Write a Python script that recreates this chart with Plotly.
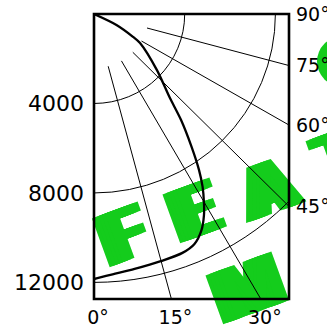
import numpy as np
import plotly.graph_objects as go

# box extent in data units (horizontal distance / depth)
XMAX = 8600
YMAX = 12742

# grid: rings and spokes around the top-left corner
ring_radii = [4000, 8000, 12000]
spoke_angles = [15, 30, 45, 60, 75]
spoke_start = 2420

# angle labels on the bottom and right edges
bottom_angles = [0, 15, 30]
right_angles = [45, 60, 75, 90]
depth_ticks = [4000, 8000, 12000]

# the thick path
curve_x = [0, 990, 1720, 2030, 2770, 3350, 3840, 4300, 4630, 4790, 4850,
           4850, 4740, 4430, 3900, 2980, 1790, 820, 150, 0]
curve_y = [0, 490, 1020, 1300, 2500, 3760, 4740, 5930, 6970, 7730, 8450,
           8990, 9660, 10280, 10680, 11040, 11400, 11640, 11810, 11850]

GREEN = "#14cc1c"

fig = go.Figure()

# spokes (clipped by the plot area)
sx, sy = [], []
for a in spoke_angles:
    t = np.radians(a)
    sx += [spoke_start * np.sin(t), 30000 * np.sin(t), None]
    sy += [spoke_start * np.cos(t), 30000 * np.cos(t), None]
fig.add_trace(go.Scatter(
    x=sx, y=sy, mode="lines", yaxis="y2",
    line=dict(color="black", width=1),
    hoverinfo="skip", showlegend=False
))

fig.add_trace(go.Scatter(
    x=curve_x, y=curve_y, mode="lines",
    line=dict(color="black", width=2.3, shape="spline", smoothing=0.8),
    showlegend=False
))

shapes = []
for r in ring_radii:
    shapes.append(dict(
        type="circle", xref="x", yref="y", layer="below",
        x0=-r, x1=r, y0=-r, y1=r,
        line=dict(color="black", width=1)
    ))

# frame
shapes.append(dict(
    type="rect", xref="paper", yref="paper", x0=0, x1=1, y0=0, y1=1,
    line=dict(color="black", width=2.6)
))

# watermark behind everything; each letter is stamped a few times along
# the baseline so it comes out wide and heavy like the original
L, T, W, H = 94, 14, 195, 285
def px(x, y):
    return (x - L) / W, (T + H - y) / H

ang = np.radians(20)
wm = [("F", 121, 231), ("E", 192, 207), ("A", 266, 184), ("T", 340, 152),
      ("M", 246, 284), ("A", 350, 250)]
for ch, cx, cy in wm:
    for d in (-7, -3.5, 0, 3.5, 7):
        xp, yp = px(cx + d * np.cos(ang), cy - d * np.sin(ang))
        shapes.append(dict(
            type="rect", xref="paper", yref="paper", layer="below",
            x0=xp, x1=xp, y0=yp, y1=yp, line=dict(width=0),
            label=dict(text=ch, textangle=-20, textposition="middle center",
                       font=dict(family="Roboto Black, Roboto", size=73,
                                 color=GREEN, weight=900))
        ))
cx0, cy0 = px(317, 86.5)
cx1, cy1 = px(367, 36.5)
shapes.append(dict(
    type="circle", xref="paper", yref="paper", layer="below",
    x0=cx0, x1=cx1, y0=cy0, y1=cy1,
    fillcolor=GREEN, line=dict(width=0)
))

tick_font = dict(family="DejaVu Sans", size=19, color="black")

fig.update_layout(
    width=327, height=329,
    margin=dict(l=L, r=327 - L - W, t=T, b=329 - T - H, autoexpand=False),
    paper_bgcolor="white", plot_bgcolor="rgba(0,0,0,0)",
    shapes=shapes,
    xaxis=dict(
        range=[0, XMAX], showgrid=False, zeroline=False, showline=False,
        automargin=False,
        tickvals=[YMAX * np.tan(np.radians(a)) for a in bottom_angles],
        ticktext=[f"{a}°" for a in bottom_angles],
        ticks="", tickfont=tick_font, ticklabelstandoff=5, ticklabelshift=4
    ),
    yaxis=dict(
        range=[YMAX, 0], showgrid=False, zeroline=False, showline=False,
        automargin=False,
        tickvals=depth_ticks, ticktext=[str(v) for v in depth_ticks],
        ticks="", tickfont=dict(family="DejaVu Sans", size=22, color="black"),
        ticklabelstandoff=9
    ),
    yaxis2=dict(
        range=[YMAX, 0], overlaying="y", side="right",
        showgrid=False, zeroline=False, showline=False, automargin=False,
        tickvals=[XMAX / np.tan(np.radians(a)) if a < 90 else 0 for a in right_angles],
        ticktext=[f"{a}°" for a in right_angles],
        ticks="", tickfont=tick_font, ticklabelstandoff=6
    ),
)

fig.write_html("out.html", config={"displayModeBar": False},
               post_script="document.body.style.margin = '0';")
